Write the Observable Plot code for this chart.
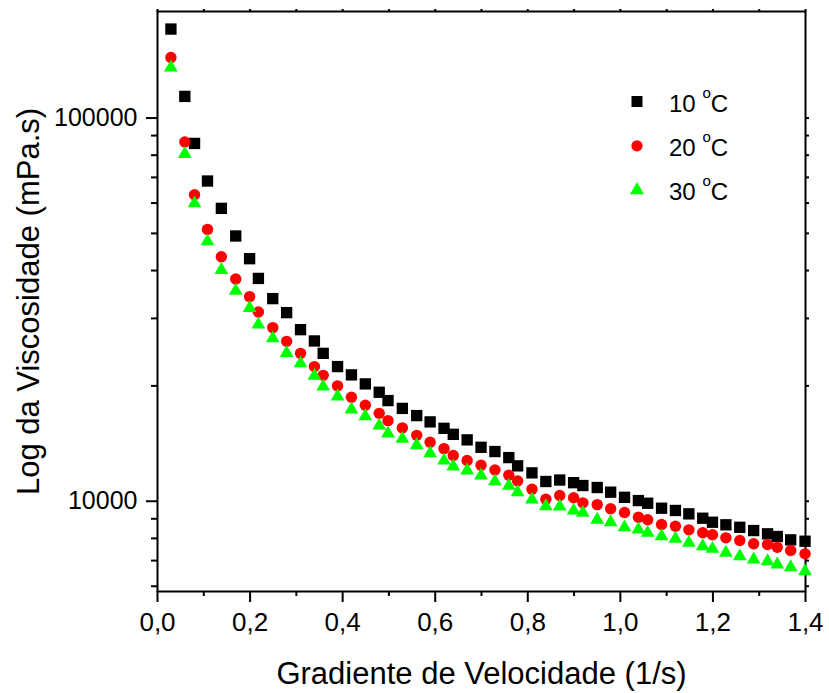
<!DOCTYPE html>
<html>
<head>
<meta charset="utf-8">
<script src="https://cdn.jsdelivr.net/npm/d3@7"></script>
<script src="https://cdn.jsdelivr.net/npm/@observablehq/plot@0.6"></script>
<style>
  html, body { margin: 0; padding: 0; background: #fff; overflow: hidden; }
  #wrap { position: relative; width: 829px; height: 693px; font-family: "Liberation Sans", Arial, sans-serif; }
  #legend { position: absolute; left: 0; top: 0; pointer-events: none; }
</style>
</head>
<body>
<div id="wrap"></div>
<script>
// Shear rate (1/s)
const rates = [0.029,0.059,0.080,0.108,0.138,0.169,0.199,0.218,0.249,0.279,0.309,0.339,0.358,0.389,0.419,0.449,0.479,0.498,0.529,0.560,0.589,0.619,0.639,0.669,0.699,0.729,0.759,0.778,0.809,0.839,0.869,0.899,0.919,0.950,0.979,1.009,1.039,1.059,1.089,1.119,1.148,1.178,1.199,1.228,1.258,1.288,1.318,1.339,1.368,1.399];
// Viscosity (mPa.s)
const visc10 = [170700,113900,85860,68500,58120,49230,42950,38150,33790,31060,28040,26200,24320,22460,21370,20240,19250,18310,17470,16730,16110,15500,14950,14460,13830,13480,13000,12370,11860,11260,11360,11180,10990,10860,10560,10240,10040,9880,9590,9460,9270,9030,8815,8680,8550,8385,8222,8090,7930,7865];
const visc20 = [143900,86570,63100,51220,43470,38030,34200,31190,28390,26140,24320,22460,21310,20000,18680,17800,16960,16230,15540,14860,14250,13720,13160,12770,12410,12070,11690,11300,10750,10120,10350,10210,9905,9800,9555,9345,9085,8945,8695,8607,8422,8272,8174,8026,7898,7743,7711,7586,7437,7291];
const visc30 = [135500,80550,59890,47660,40130,35440,31950,28900,26620,24380,22900,21240,19920,18760,17350,16660,15750,15020,14550,14000,13340,12770,12320,12030,11670,11270,10970,10560,10100,9705,9687,9456,9326,8945,8815,8550,8437,8272,8105,7980,7790,7634,7514,7336,7187,7046,6975,6838,6729,6568];

const seriesNames = ["10", "20", "30"];
const seriesColors = ["#000000", "#ff0000", "#00ff00"];
const seriesSymbols = ["square", "circle", "triangle"];

const xMajorTicks = [0, 0.2, 0.4, 0.6, 0.8, 1.0, 1.2, 1.4];
const xMinorTicks = [0.1, 0.3, 0.5, 0.7, 0.9, 1.1, 1.3];
const yMajorTicks = [10000, 100000];
const yMinorTicks = [6000, 7000, 8000, 9000, 20000, 30000, 40000, 50000, 60000, 70000, 80000, 90000];

const xTitle = "Gradiente de Velocidade (1/s)";
const yTitle = "Log da Viscosidade (mPa.s)";

const allVisc = [visc10, visc20, visc30];
const rows = allVisc.map((vals, s) => vals.map((v, i) => ({series: seriesNames[s], x: rates[i], y: v})));

const symbolR = {square: 6.4, circle: 5.7, triangle: 5.1};

const fontFamily = '"Liberation Sans", Arial, sans-serif';
const W = 829, H = 693;

const chart = Plot.plot({
  width: W,
  height: H,
  marginLeft: 157,
  marginRight: 24,
  marginTop: 11,
  marginBottom: 102,
  style: {fontFamily, color: "#000", background: "#fff", overflow: "visible"},
  x: {domain: [0, 1.4], label: null},
  y: {type: "log", domain: [5814, 189700], label: null},
  marks: [
    Plot.axisX({ticks: xMajorTicks, tickSize: 11, tickPadding: 10, strokeWidth: 2, fontSize: 26,
      tickFormat: d => d.toFixed(1).replace(".", ","), label: null}),
    Plot.axisX({ticks: xMinorTicks, tickSize: 5, strokeWidth: 2, tickFormat: () => "", label: null}),
    Plot.axisX({anchor: "top", ticks: xMajorTicks.concat(xMinorTicks), tickSize: 3, strokeWidth: 2, tickFormat: () => "", label: null}),
    Plot.axisY({ticks: yMajorTicks, tickSize: 11, tickPadding: 9, strokeWidth: 2, fontSize: 25,
      tickFormat: d => String(d), label: null}),
    Plot.axisY({ticks: yMinorTicks, tickSize: 6, strokeWidth: 2, tickFormat: () => "", label: null}),
    Plot.axisY({anchor: "right", ticks: yMajorTicks.concat(yMinorTicks), tickSize: 3, strokeWidth: 2, tickFormat: () => "", label: null}),
    Plot.frame({stroke: "#000", strokeWidth: 2}),
    ...rows.map((r, s) => Plot.dot(r, {
      x: "x", y: "y",
      symbol: () => seriesSymbols[s],
      r: symbolR[seriesSymbols[s]],
      fill: seriesColors[s],
      stroke: "none"
    })),
    Plot.text([xTitle], {text: d => d, frameAnchor: "bottom", dy: 92, lineAnchor: "bottom", textAnchor: "middle", fontSize: 31}),
    Plot.text([yTitle], {text: d => d, frameAnchor: "left", dx: -119, rotate: -90, lineAnchor: "bottom", textAnchor: "middle", fontSize: 31})
  ]
});

const wrap = document.getElementById("wrap");
wrap.appendChild(chart);

// Legend overlay
const ns = "http://www.w3.org/2000/svg";
const leg = document.createElementNS(ns, "svg");
leg.setAttribute("id", "legend");
leg.setAttribute("width", W);
leg.setAttribute("height", H);
const legendX = 637, legendY0 = 101.5, legendStep = 44.3;
seriesNames.forEach((name, i) => {
  const cy = legendY0 + i * legendStep;
  const sym = d3.symbol(
    seriesSymbols[i] === "square" ? d3.symbolSquare : seriesSymbols[i] === "circle" ? d3.symbolCircle : d3.symbolTriangle,
    Math.PI * Math.pow(seriesSymbols[i] === "square" ? 6.2 : seriesSymbols[i] === "circle" ? 5.6 : 5.2, 2)
  )();
  const p = document.createElementNS(ns, "path");
  p.setAttribute("d", sym);
  p.setAttribute("transform", `translate(${legendX},${cy})`);
  p.setAttribute("fill", seriesColors[i]);
  leg.appendChild(p);
  const t = document.createElementNS(ns, "text");
  t.setAttribute("x", 669);
  t.setAttribute("y", cy + 10);
  t.setAttribute("font-family", fontFamily);
  t.setAttribute("font-size", 24);
  t.setAttribute("fill", "#000");
  const t1 = document.createElementNS(ns, "tspan");
  t1.textContent = name + " ";
  const t2 = document.createElementNS(ns, "tspan");
  t2.textContent = "o";
  t2.setAttribute("font-size", 15);
  t2.setAttribute("dy", -14);
  const t3 = document.createElementNS(ns, "tspan");
  t3.textContent = "C";
  t3.setAttribute("dy", 14);
  t.appendChild(t1); t.appendChild(t2); t.appendChild(t3);
  leg.appendChild(t);
});
wrap.appendChild(leg);
</script>
</body>
</html>
